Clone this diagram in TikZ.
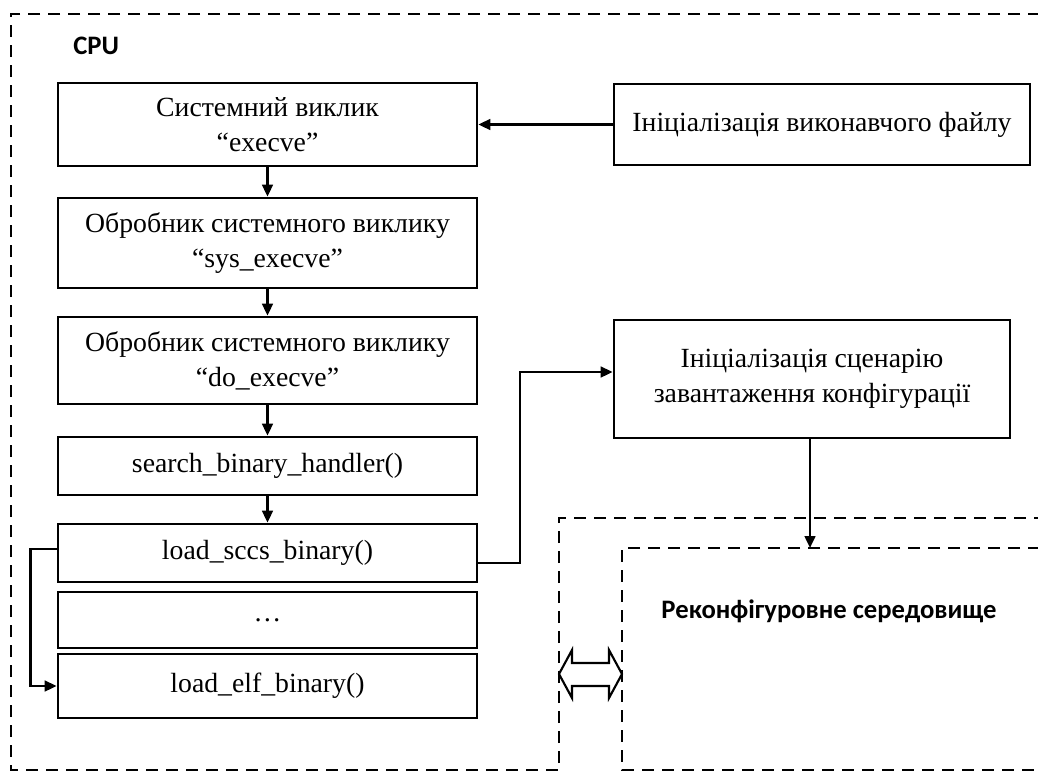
\documentclass[tikz,border=0pt]{standalone}
\usepackage{fontspec}
\setmainfont{Liberation Serif}
\newfontfamily\calib{Carlito}
\usetikzlibrary{arrows.meta,calc}
\begin{document}
\begin{tikzpicture}[x=0.75pt,y=-0.75pt,
  box/.style={draw,line width=2pt,inner sep=0pt,minimum width=419*0.75pt,align=center,
    font=\fontsize{20.8pt}{26.4pt}\selectfont},
  rbox/.style={draw,line width=2pt,inner sep=0pt,align=center,
    font=\fontsize{20.8pt}{26.4pt}\selectfont},
  conn/.style={line width=1.9pt,-{Triangle[length=9pt,width=8pt]}},
  region/.style={line width=2pt,dash pattern=on 9pt off 6pt},
  lbl/.style={font=\calib\bfseries\fontsize{20pt}{24pt}\selectfont,inner sep=0pt}]
\useasboundingbox (0,0) rectangle (1038,772);
\clip (0,0) rectangle (1038,772);
% regions
\draw[region] (1060,14) -- (11,14) -- (11,770) -- (559,770) -- (559,518) -- (1060,518);
\draw[region] (1060,548) -- (622,548) -- (622,770) -- (1060,770);
\node[lbl,anchor=west] (cpu) at (73,46) {CPU};
\node[lbl] (env) at (829,611) {Реконфігуровне середовище};
% left column
\node[box,minimum height=83*0.75pt] (b1) at (267.5,124.5) {Системний виклик\\“execve”};
\node[box,minimum height=90*0.75pt] (b2) at (267.5,243) {Обробник системного виклику\\“sys\_execve”};
\node[box,minimum height=87*0.75pt] (b3) at (267.5,360.5) {Обробник системного виклику\\“do\_execve”};
\node[box,minimum height=58*0.75pt] (b4) at (267.5,466) {search\_binary\_handler()};
\node[box,minimum height=58*0.75pt] (b5) at (267.5,553) {load\_sccs\_binary()};
\node[box,minimum height=56*0.75pt] (b6) at (267.5,620) {…};
\node[box,minimum height=64*0.75pt] (b7) at (267.5,686) {load\_elf\_binary()};
% right boxes
\node[rbox,minimum width=416*0.75pt,minimum height=81*0.75pt] (init) at (822,124.5) {Ініціалізація виконавчого файлу};
\node[rbox,minimum width=396*0.75pt,minimum height=118*0.75pt] (sc) at (812,379) {Ініціалізація сценарію\\завантаження конфігурації};
% connectors
\draw[conn] (init.west) -- (b1.east);
\draw[conn] (b1) -- (b2);
\draw[conn] (b2) -- (b3);
\draw[conn] (b3) -- (b4);
\draw[conn] (b4) -- (b5);
\draw[conn] ($(b5.west)+(0,-4)$) -- ++(-26,0) |- (b7.west);
\draw[conn] ($(b5.east)+(0,10)$) -| (520,372) -- ($(sc.west)+(0,-7)$);
\coordinate (rtop) at (810,548);
\draw[conn] (sc.south -| rtop) -- (rtop);
% double arrow
\draw[line width=1.6pt,fill=white,line join=miter] (559,674) -- (572,650) -- (572,663) -- (609,663) -- (609,650) -- (622,674) -- (609,698) -- (609,686) -- (572,686) -- (572,698) -- cycle;
\end{tikzpicture}
\end{document}
